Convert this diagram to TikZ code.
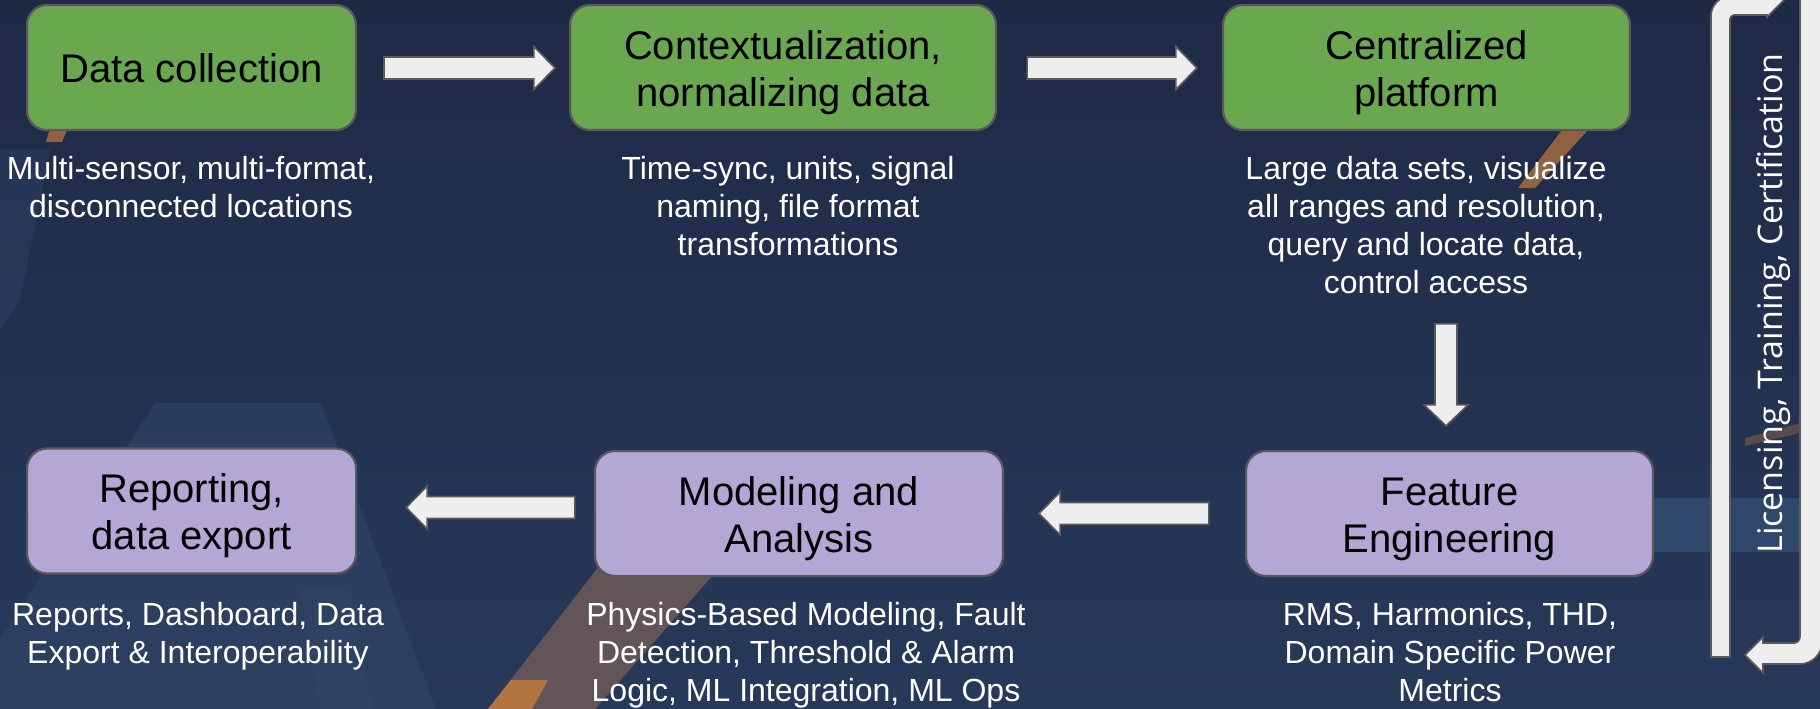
\documentclass[tikz,border=0pt]{standalone}
\usepackage{fontspec}
\setmainfont{Liberation Sans}
\newfontfamily\osans{Open Sans}
\usetikzlibrary{calc}
\definecolor{bgtop}{HTML}{1E2946}
\definecolor{bgbot}{HTML}{27395A}
\definecolor{bglight}{HTML}{34496C}
\definecolor{gfill}{HTML}{6AA84F}
\definecolor{pfill}{HTML}{B4A7D6}
\definecolor{bline}{HTML}{595959}
\definecolor{afill}{HTML}{EEEEEE}
\definecolor{aline}{HTML}{5A5A5A}
\definecolor{stripe}{HTML}{6E5B57}
\definecolor{orng}{HTML}{C07A3E}
\definecolor{lband}{HTML}{3A5A80}
\tikzset{
  stagebox/.style={draw=bline, line width=2.2pt, rounded corners=20pt,
    minimum height=125pt, inner sep=0pt, align=center, text=black,
    font=\fontsize{40}{47}\selectfont},
  gstage/.style={stagebox, fill=gfill},
  pstage/.style={stagebox, fill=pfill},
  subtxt/.style={font=\fontsize{32}{38}\selectfont, text=white, align=center,
    anchor=north, inner sep=0pt},
  blk/.style={fill=afill, draw=aline, line width=1.6pt, line join=miter},
}
\newcommand\ttl[1]{\rule{0pt}{40pt}#1\rule[-10pt]{0pt}{10pt}}
\newcommand\stl[1]{\rule{0pt}{24pt}#1}
% block arrows between named coordinates
\newcommand\arrR[2]{\path[blk] let \p1=(#1), \p2=(#2) in
  ({\x1},{\y1+11pt}) -- ({\x2-21pt},{\y1+11pt}) -- ({\x2-21pt},{\y1+21.5pt})
  -- ({\x2},{\y1}) -- ({\x2-21pt},{\y1-21.5pt}) -- ({\x2-21pt},{\y1-11pt})
  -- ({\x1},{\y1-11pt}) -- cycle;}
\newcommand\arrL[2]{\path[blk] let \p1=(#1), \p2=(#2) in
  ({\x1},{\y1+11pt}) -- ({\x2+21pt},{\y1+11pt}) -- ({\x2+21pt},{\y1+21.5pt})
  -- ({\x2},{\y1}) -- ({\x2+21pt},{\y1-21.5pt}) -- ({\x2+21pt},{\y1-11pt})
  -- ({\x1},{\y1-11pt}) -- cycle;}
\newcommand\arrD[2]{\path[blk] let \p1=(#1), \p2=(#2) in
  ({\x1-11pt},{\y1}) -- ({\x1-11pt},{\y2+21pt}) -- ({\x1-22pt},{\y2+21pt})
  -- ({\x1},{\y2}) -- ({\x1+22pt},{\y2+21pt}) -- ({\x1+11pt},{\y2+21pt})
  -- ({\x1+11pt},{\y1}) -- cycle;}
\begin{document}
\begin{tikzpicture}[x=1pt,y=-1pt]
\useasboundingbox (0,0) rectangle (1820,709);
\clip (0,0) rectangle (1820,709);
% background
\shade[top color=bgtop, bottom color=bgbot] (0,0) rectangle (1820,709);
\fill[bglight, opacity=0.45] (155,403) -- (321,403) -- (436,709) -- (0,709) -- (0,640) -- cycle;
\fill[bglight, opacity=0.35] (0,150) -- (50,150) -- (20,300) -- (0,330) -- cycle;
\fill[bglight, opacity=0.3] (300,590) -- (350,590) -- (373,709) -- (320,709) -- cycle;
\fill[lband, opacity=0.5] (1600,498) rectangle (1820,552);
\fill[stripe, opacity=0.85] (488,709) -- (600,565) -- (722,565) -- (595,709) -- cycle;
\fill[orng, opacity=0.85] (488,709) -- (511,680) -- (548,680) -- (532,709) -- cycle;
\fill[orng, opacity=0.7] (1562,130) -- (1588,130) -- (1535,188) -- (1518,188) -- cycle;
\fill[orng, opacity=0.7] (50,128) -- (68,128) -- (62,142) -- (46,142) -- cycle;
\fill[orng, opacity=0.35] (1745,438) -- (1820,418) -- (1820,428) -- (1745,446) -- cycle;

% stage boxes
\node[gstage, minimum width=329pt] (b1) at (191.4,67.5) {\ttl{Data collection}};
\node[gstage, minimum width=426pt] (b2) at (783,67.5) {\ttl{Contextualization,\\normalizing data}};
\node[gstage, minimum width=407pt] (b3) at (1426.5,67.5) {\ttl{Centralized\\platform}};
\node[pstage, minimum width=407pt] (b6) at (1449.5,513.5) {\ttl{Feature\\Engineering}};
\node[pstage, minimum width=408pt] (b5) at (799,513.5) {\ttl{Modeling and\\Analysis}};
\node[pstage, minimum width=329pt] (b4) at (191.6,511) {\ttl{Reporting,\\data export}};

% descriptions
\node[subtxt] (s1) at (191,155) {\stl{Multi-sensor, multi-format,\\disconnected locations}};
\node[subtxt] (s2) at (788,155) {\stl{Time-sync, units, signal\\naming, file format\\transformations}};
\node[subtxt] (s3) at (1426,155) {\stl{Large data sets, visualize\\all ranges and resolution,\\query and locate data,\\control access}};
\node[subtxt] (s4) at (198,601) {\stl{Reports, Dashboard, Data\\Export \& Interoperability}};
\node[subtxt] (s5) at (806,601) {\stl{Physics-Based Modeling, Fault\\Detection, Threshold \& Alarm\\Logic, ML Integration, ML Ops}};
\node[subtxt] (s6) at (1450,601) {\stl{RMS, Harmonics, THD,\\Domain Specific Power\\Metrics}};

% arrow end points
\coordinate (a1s) at ($(b1.east)+(27,0.5)$);
\coordinate (a1e) at ($(b2.west)+(-14,0.5)$);
\coordinate (a2s) at ($(b2.east)+(30,0.5)$);
\coordinate (a2e) at ($(b3.west)+(-25,0.5)$);
\coordinate (a3s) at ($(b6.north)+(-3.5,-126)$);
\coordinate (a3e) at ($(b6.north)+(-3.5,-24)$);
\coordinate (a4s) at ($(b6.west)+(-36,0)$);
\coordinate (a4e) at ($(b5.east)+(35,0)$);
\coordinate (a5s) at ($(b5.west)+(-19,-6)$);
\coordinate (a5e) at ($(b4.east)+(49,-4)$);
\arrR{a1s}{a1e}
\arrR{a2s}{a2e}
\arrD{a3s}{a3e}
\arrL{a4s}{a4e}
\arrL{a5s}{a5e}

% loop arrows on the right
\path[blk] (1730,657) -- (1711,657) -- (1711,16) .. controls (1711,5) and (1720,-4) .. (1731,-4)
  -- (1767,-4) -- (1767,-17) -- (1784,0) -- (1767,17) -- (1767,15) -- (1734,15)
  .. controls (1732,15) and (1730,17) .. (1730,19) -- cycle;
\path[blk] (1800,-10) -- (1800,637) .. controls (1800,640.3) and (1797.3,643) .. (1794,643)
  -- (1763,643) -- (1763,637) -- (1745,655) -- (1763,673) -- (1763,664) -- (1800,664)
  .. controls (1812,664) and (1822,654) .. (1822,642) -- (1822,-10) -- cycle;
\node[rotate=90, anchor=base, inner sep=0pt, text=white, font=\osans\fontsize{34}{40}\selectfont]
  (lic) at (1782,303.5) {Licensing, Training, Certification};
\end{tikzpicture}
\end{document}
